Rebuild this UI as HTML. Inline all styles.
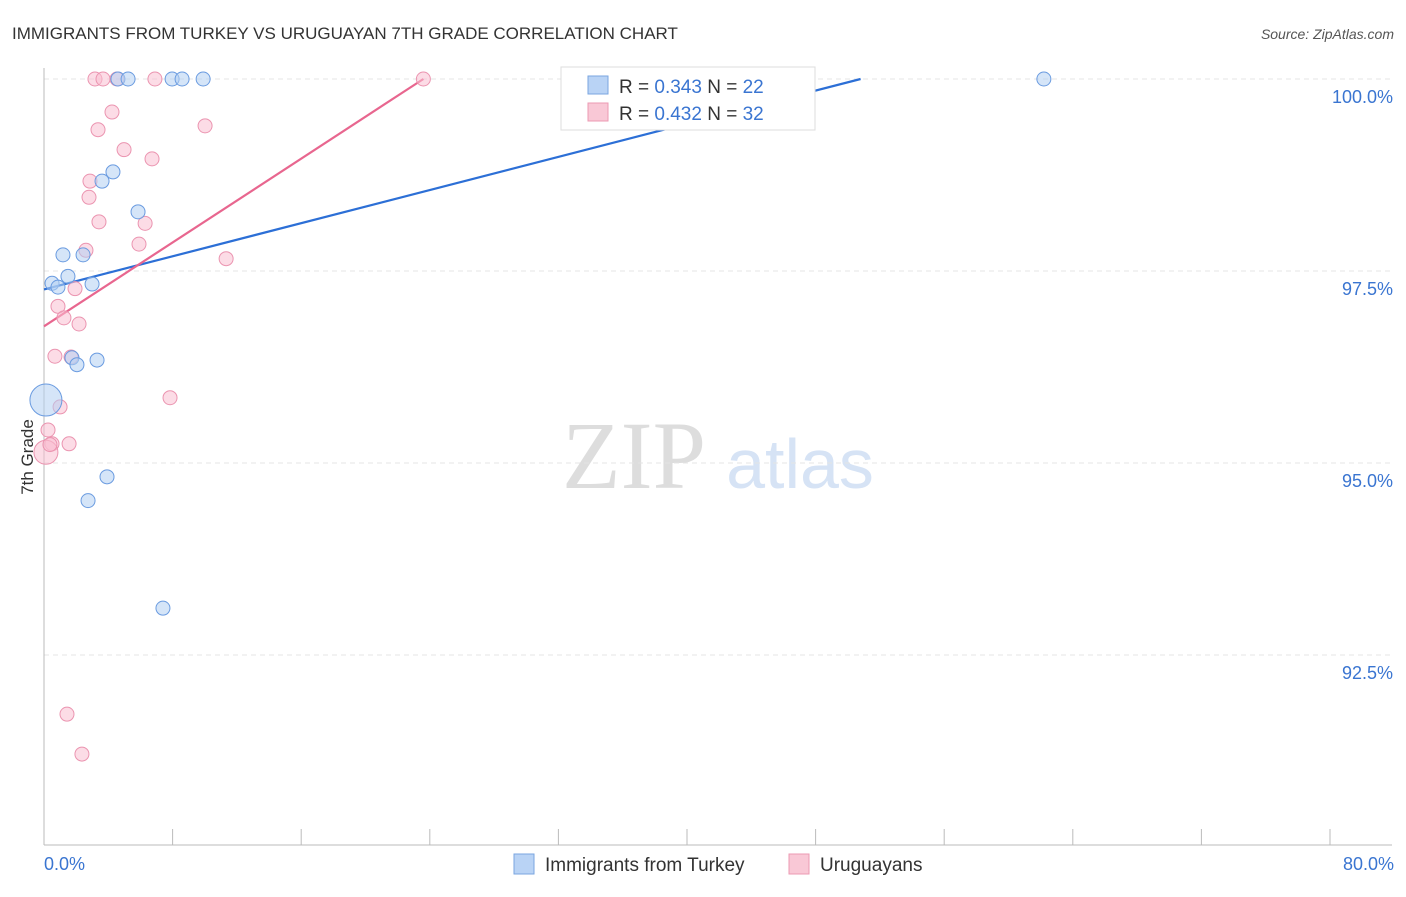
<!DOCTYPE html>
<html><head><meta charset="utf-8"><style>
body{margin:0;background:#fff;font-family:"Liberation Sans",sans-serif;}
svg text{font-family:"Liberation Sans",sans-serif;}
</style></head><body>
<svg id="chart" width="1406" height="892">
<text x="12" y="39" font-size="17" fill="#333">IMMIGRANTS FROM TURKEY VS URUGUAYAN 7TH GRADE CORRELATION CHART</text>
<text x="1394" y="39" font-size="14" fill="#555" font-style="italic" text-anchor="end">Source: ZipAtlas.com</text>
<g>
<text x="634" y="488" font-size="96" fill="#ddd" text-anchor="middle" font-family="Liberation Serif" style="font-family:'Liberation Serif',serif">ZIP</text>
<text x="800" y="488" font-size="70" fill="#d6e3f5" text-anchor="middle">atlas</text>
</g>
<g id="grid"></g>
<g id="axes"></g>
<g id="trend"></g>
<g id="points"></g>
<text transform="translate(33,457) rotate(-90)" font-size="17" fill="#333" text-anchor="middle">7th Grade</text>
<g>
<rect x="561" y="67" width="254" height="63" fill="#fff" stroke="#ddd"/>
<rect x="588" y="76" width="20" height="18" fill="#b9d3f5" stroke="#7aa6e0"/>
<text x="619" y="93" font-size="19" fill="#333">R = <tspan fill="#3a75d1">0.343</tspan>   N = <tspan fill="#3a75d1">22</tspan></text>
<rect x="588" y="103" width="20" height="18" fill="#f9c8d6" stroke="#ec9ab3"/>
<text x="619" y="120" font-size="19" fill="#333">R = <tspan fill="#3a75d1">0.432</tspan>   N = <tspan fill="#3a75d1">32</tspan></text>
</g>
<g>
<rect x="514" y="854" width="20" height="20" fill="#b9d3f5" stroke="#7aa6e0"/>
<text x="545" y="871" font-size="19" fill="#333">Immigrants from Turkey</text>
<rect x="789" y="854" width="20" height="20" fill="#f9c8d6" stroke="#ec9ab3"/>
<text x="820" y="871" font-size="19" fill="#333">Uruguayans</text>
</g>
</svg>
<script>
const yTicks=[92.5,95,97.5,100];
const yTickLabels=["92.5%","95.0%","97.5%","100.0%"];
const xTickCount=10;
const xLabels=["0.0%","80.0%"];
const blueX=[0.5,0.87,1.18,1.49,2.43,2.99,1.74,2.05,3.3,3.61,4.29,5.85,4.6,5.23,7.97,8.59,9.9,62.2,3.92,2.74,7.4,0.12];
const blueY=[97.34,97.29,97.71,97.43,97.71,97.33,96.37,96.28,96.34,98.67,98.79,98.27,100,100,100,100,100,100,94.82,94.51,93.11,95.82];
const blueR=[7,7,7,7,7,7,7,7,7,7,7,7,7,7,7,7,7,7,7,7,7,16];
const pinkX=[3.17,3.67,4.54,6.9,23.6,4.23,3.36,10.02,4.98,6.72,2.86,2.8,3.42,6.29,2.61,5.91,11.33,1.93,0.87,1.24,2.18,0.68,1.68,7.84,1.0,0.25,0.5,1.56,0.12,1.43,2.36,0.37];
const pinkY=[100,100,100,100,100,99.57,99.34,99.39,99.08,98.96,98.67,98.46,98.14,98.12,97.77,97.85,97.66,97.27,97.04,96.89,96.81,96.39,96.38,95.85,95.73,95.43,95.25,95.25,95.14,91.73,91.21,95.24];
const pinkR=[7,7,7,7,7,7,7,7,7,7,7,7,7,7,7,7,7,7,7,7,7,7,7,7,7,7,7,7,12,7,7,7];
const blueTrend=[[0,97.26],[50.8,100]];
const pinkTrend=[[0,96.78],[23.6,100]];
const X=v=>44+v*16.075, Y=v=>79+(100-v)*76.8;
const NS="http://www.w3.org/2000/svg";
function mk(tag,attrs,parent){const e=document.createElementNS(NS,tag);for(const k in attrs)e.setAttribute(k,attrs[k]);document.getElementById(parent).appendChild(e);return e;}
yTicks.forEach((t,i)=>{
 const l=mk('line',{x1:44,x2:1392,y1:Y(t),y2:Y(t),stroke:'#e4e4e4','stroke-dasharray':'5,4'},'grid');
 
 
 const tx=mk('text',{x:1393,y:Y(t)+24,'font-size':18,fill:'#3a75d1','text-anchor':'end'},'grid');
 tx.textContent=yTickLabels[i];
 
 
});
const ax=mk('line',{x1:44,x2:1392,y1:845,y2:845,stroke:'#bbb'},'axes');


const ay=mk('line',{x1:44,x2:44,y1:68,y2:845,stroke:'#bbb'},'axes');


for(let i=0;i<=xTickCount;i++){
 const t=mk('line',{x1:X(i*8),x2:X(i*8),y1:829,y2:845,stroke:'#bbb'},'axes');
 
 
}
const xl0=mk('text',{x:44,y:870,'font-size':18,fill:'#3a75d1'},'axes');xl0.textContent=xLabels[0];


const xl1=mk('text',{x:1394,y:870,'font-size':18,fill:'#3a75d1','text-anchor':'end'},'axes');xl1.textContent=xLabels[1];


function pts(xs,ys,rs,fill,stroke,name){xs.forEach((v,i)=>{
 const c=mk('circle',{cx:X(v),cy:Y(ys[i]),r:rs[i],fill:fill,stroke:stroke,'stroke-width':1,'fill-opacity':0.55},'points');
 
 
});}
pts(pinkX,pinkY,pinkR,'#f9c0d2','#eb94b0','uruguayan-point');
pts(blueX,blueY,blueR,'#b3cff3','#6a9be0','turkey-point');
const bt=mk('line',{x1:X(blueTrend[0][0]),y1:Y(blueTrend[0][1]),x2:X(blueTrend[1][0]),y2:Y(blueTrend[1][1]),stroke:'#2c6fd6','stroke-width':2.2},'trend');


const pt=mk('line',{x1:X(pinkTrend[0][0]),y1:Y(pinkTrend[0][1]),x2:X(pinkTrend[1][0]),y2:Y(pinkTrend[1][1]),stroke:'#e8668f','stroke-width':2.2},'trend');


</script>
</body></html>
